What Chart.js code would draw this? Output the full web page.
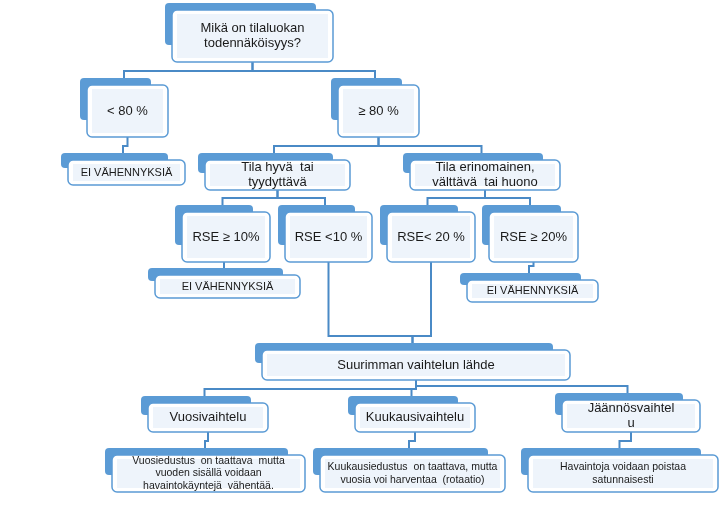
<!DOCTYPE html>
<html>
<head>
<meta charset="utf-8">
<script src="https://cdn.jsdelivr.net/npm/chart.js@4/dist/chart.umd.min.js"></script>
<style>
  body { margin: 0; background: #fff; }
  #wrap { width: 722px; height: 520px; }
</style>
</head>
<body>
<div id="wrap"><canvas id="tree"></canvas></div>
<script>
// node texts and boxes in diagram units (x, y = top-left of white box)
const nodeLabels = [
  ["Mikä on tilaluokan", "todennäköisyys?"],
  ["< 80 %"],
  ["≥ 80 %"],
  ["EI VÄHENNYKSIÄ"],
  ["Tila hyvä  tai", "tyydyttävä"],
  ["Tila erinomainen,", "välttävä  tai huono"],
  ["RSE ≥ 10%"],
  ["RSE <10 %"],
  ["RSE< 20 %"],
  ["RSE ≥ 20%"],
  ["EI VÄHENNYKSIÄ"],
  ["EI VÄHENNYKSIÄ"],
  ["Suurimman vaihtelun lähde"],
  ["Vuosivaihtelu"],
  ["Kuukausivaihtelu"],
  ["Jäännösvaihtel", "u"],
  ["Vuosiedustus  on taattava  mutta", "vuoden sisällä voidaan", "havaintokäyntejä  vähentää."],
  ["Kuukausiedustus  on taattava, mutta", "vuosia voi harventaa  (rotaatio)"],
  ["Havaintoja voidaan poistaa", "satunnaisesti"]
];
const nodeX = [172, 87, 338, 68, 205, 410, 182, 285, 387, 489, 155, 467, 262, 148, 355, 562, 112, 320, 528];
const nodeY = [10, 85, 85, 160, 160, 160, 212, 212, 212, 212, 275, 280, 350, 403, 403, 400, 455, 455, 455];
const nodeW = [161, 81, 81, 117, 145, 150, 88, 87, 88, 89, 145, 131, 308, 120, 120, 138, 193, 185, 190];
const nodeH = [52, 52, 52, 25, 30, 30, 50, 50, 50, 50, 23, 22, 30, 29, 29, 32, 37, 37, 37];
const nodeFont = [13, 13, 13, 11, 13, 13, 13, 13, 13, 13, 11, 11, 13, 13, 13, 13, 10.5, 10.5, 10.5];

// parent -> child links
const linkFrom = [0, 0, 1, 2, 2, 4, 4, 5, 5, 6, 9, 7, 8, 12, 12, 12, 13, 14, 15];
const linkTo   = [1, 2, 3, 4, 5, 6, 7, 8, 9, 10, 11, 12, 12, 13, 14, 15, 16, 17, 18];

const BLUE = '#5b9bd5';
const LINE = '#4a8ac6';
const TAB = 7;

function rr(ctx, x, y, w, h, r) {
  ctx.beginPath();
  ctx.roundRect(x, y, w, h, r);
}

const treePlugin = {
  id: 'tree',
  afterDatasetsDraw(chart) {
    const ctx = chart.ctx;
    const sx = chart.scales.x, sy = chart.scales.y;
    const px = v => sx.getPixelForValue(v);
    const py = v => sy.getPixelForValue(v);
    ctx.save();

    // connectors
    ctx.strokeStyle = LINE;
    ctx.lineWidth = 2;
    linkFrom.forEach((p, i) => {
      const c = linkTo[i];
      const pxc = nodeX[p] + nodeW[p] / 2;
      const pb = nodeY[p] + nodeH[p];
      const cxc = nodeX[c] + nodeW[c] / 2 - TAB / 2;
      const ct = nodeY[c] - TAB;
      const bus = ct - 7;
      ctx.beginPath();
      ctx.moveTo(px(pxc), py(pb));
      ctx.lineTo(px(pxc), py(bus));
      ctx.lineTo(px(cxc), py(bus));
      ctx.lineTo(px(cxc), py(ct));
      ctx.stroke();
    });

    // boxes
    nodeLabels.forEach((lines, i) => {
      const x = px(nodeX[i]), y = py(nodeY[i]);
      const w = px(nodeX[i] + nodeW[i]) - x, h = py(nodeY[i] + nodeH[i]) - y;
      ctx.fillStyle = BLUE;
      rr(ctx, x - TAB, y - TAB, w - 10, h - 10, 4);
      ctx.fill();
      ctx.fillStyle = '#fff';
      ctx.strokeStyle = BLUE;
      ctx.lineWidth = 1.5;
      rr(ctx, x, y, w, h, 5);
      ctx.fill();
      ctx.stroke();
      ctx.fillStyle = '#eef4fb';
      ctx.fillRect(x + 5, y + 4, w - 10, h - 8);

      ctx.fillStyle = '#1a1a1a';
      ctx.font = nodeFont[i] + 'px "Liberation Sans", Arial, sans-serif';
      ctx.textAlign = 'center';
      ctx.textBaseline = 'middle';
      const lh = nodeFont[i] + 2;
      const top = y + h / 2 - (lines.length - 1) * lh / 2;
      lines.forEach((t, k) => ctx.fillText(t, x + w / 2, top + k * lh));
    });
    ctx.restore();
  }
};

new Chart(document.getElementById('tree'), {
  type: 'scatter',
  data: {
    datasets: [{
      data: nodeX.map((v, i) => ({ x: v + nodeW[i] / 2, y: nodeY[i] + nodeH[i] / 2 })),
      pointRadius: 0
    }]
  },
  options: {
    responsive: true,
    maintainAspectRatio: false,
    animation: false,
    layout: { padding: 0 },
    plugins: { legend: { display: false }, tooltip: { enabled: false } },
    scales: {
      x: { type: 'linear', min: 0, max: 722, display: false },
      y: { type: 'linear', min: 0, max: 520, reverse: true, display: false }
    }
  },
  plugins: [treePlugin]
});
</script>
</body>
</html>
